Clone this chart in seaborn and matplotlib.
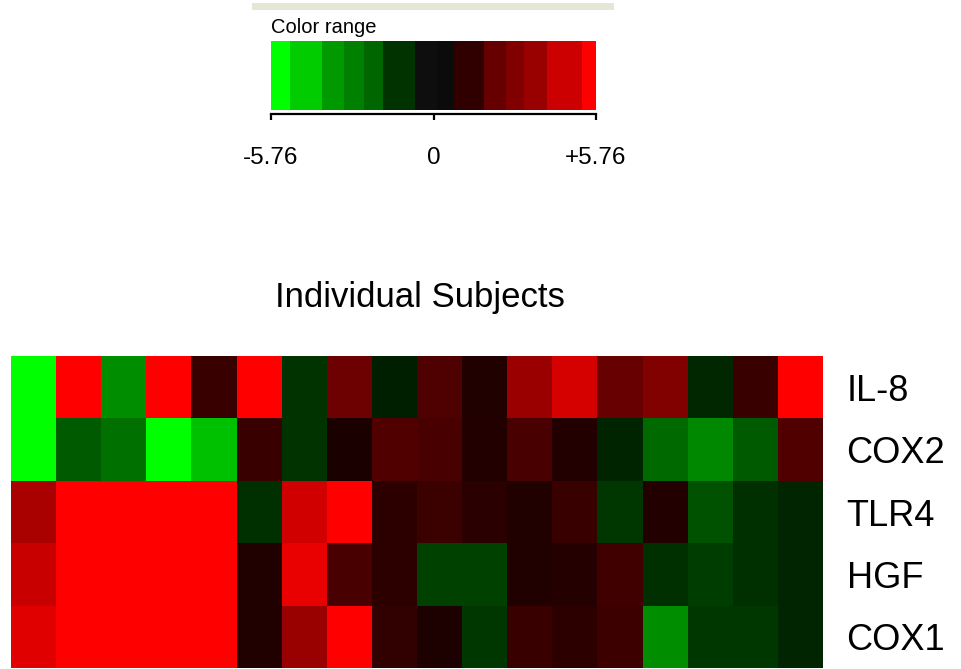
"""
Heatmap of gene expression per individual subject (green-black-red scale),
with the stepped "Color range" legend drawn above it.
"""

import numpy as np
import pandas as pd
import matplotlib
matplotlib.use("Agg")
import matplotlib.pyplot as plt
import seaborn as sns
from matplotlib.colors import LinearSegmentedColormap, ListedColormap, BoundaryNorm

# Data (log ratio)
genes = ["IL-8", "COX2", "TLR4", "HGF", "COX1"]
subjects = [f"S{i + 1}" for i in range(18)]

il8 = [-5.76, 5.76, -3.16, 5.76, 1.26, 5.76, -1.15, 2.44, -0.68,
       1.76, 0.72, 3.48, 4.81, 2.30, 2.89, -0.86, 1.26, 5.76]
cox2 = [-5.76, -2.03, -2.53, -5.76, -4.34, 1.26, -1.15, 0.59, 1.81,
        1.63, 0.77, 1.63, 0.77, -0.77, -2.35, -3.07, -2.03, 1.81]
tlr4 = [3.80, 5.76, 5.76, 5.76, 5.76, -1.08, 4.70, 5.76, 0.99,
        1.31, 0.95, 0.72, 1.26, -1.22, 0.77, -1.81, -1.08, -0.81]
hgf = [4.52, 5.76, 5.76, 5.76, 5.76, 0.72, 5.24, 1.63, 0.99,
       -1.45, -1.45, 0.72, 0.81, 1.45, -1.08, -1.36, -1.08, -0.81]
cox1 = [5.06, 5.76, 5.76, 5.76, 5.76, 0.72, 3.43, 5.76, 1.08,
        0.63, -1.22, 1.26, 0.99, 1.36, -3.16, -1.22, -1.22, -0.81]

VMAX = 5.76

# Stepped legend: bin edges (in value units) and the colour of each bin
legend_edges = [-5.76, -5.08, -3.95, -3.19, -2.45, -1.80, -0.65, 0.12,
                0.74, 1.80, 2.56, 3.22, 4.02, 5.26, 5.76]
legend_colors = ["#00ff00", "#00cc00", "#009900", "#008000", "#006600", "#003300",
                 "#0e0e0e", "#0b0b0b", "#300000", "#660000", "#800000",
                 "#990000", "#cc0000", "#ff0000"]
legend_ticks = [-5.76, 0, 5.76]
legend_ticklabels = ["-5.76", "0", "+5.76"]


def main() -> None:
    sns.set_style("white")
    plt.rcParams["font.family"] = ["Liberation Sans", "DejaVu Sans"]
    plt.rcParams["text.color"] = "black"
    plt.rcParams["xtick.color"] = "black"
    plt.rcParams["ytick.color"] = "black"

    W, H = 961, 669
    fig = plt.figure(figsize=(W / 100, H / 100), dpi=100)

    expr = pd.DataFrame([il8, cox2, tlr4, hgf, cox1], index=genes, columns=subjects)
    cmap = LinearSegmentedColormap.from_list("gbr", ["#00ff00", "#000000", "#ff0000"])

    # main heatmap
    ax = fig.add_axes([11 / W, 1 / H, 812 / W, 312 / H])
    sns.heatmap(expr, cmap=cmap, vmin=-VMAX, vmax=VMAX, cbar=False, ax=ax,
                xticklabels=False, yticklabels=True)
    ax.yaxis.tick_right()
    ax.tick_params(axis="y", length=0, pad=17, labelsize=26, rotation=0,
                   labelcolor="black")
    ax.set_xlabel("")
    ax.set_ylabel("")

    fig.text(420 / W, 1 - 307 / H, "Individual Subjects", ha="center",
             va="baseline", fontsize=25, color="black")

    # colour range legend
    band = fig.add_axes([252 / W, 1 - 10 / H, 362 / W, 7 / H])
    band.set_facecolor("#e6e6d6")
    band.set_xticks([])
    band.set_yticks([])
    for s in band.spines.values():
        s.set_visible(False)

    fig.text(271 / W, 1 - 33 / H, "Color range", ha="left", va="baseline",
             fontsize=14.5, color="black")

    cax = fig.add_axes([271 / W, 1 - 110 / H, 325 / W, 69 / H])
    lcmap = ListedColormap(legend_colors)
    norm = BoundaryNorm(legend_edges, lcmap.N)
    centers = (np.array(legend_edges[:-1]) + np.array(legend_edges[1:])) / 2
    cax.pcolormesh(legend_edges, [0, 1], centers[np.newaxis, :], cmap=lcmap, norm=norm)
    cax.set_xlim(-VMAX, VMAX)
    cax.set_ylim(0, 1)
    cax.set_yticks([])
    for side in ["top", "left", "right"]:
        cax.spines[side].set_visible(False)
    cax.spines["bottom"].set_position(("outward", 3))
    cax.spines["bottom"].set_linewidth(1.6)
    cax.spines["bottom"].set_color("black")
    cax.set_xticks(legend_ticks)
    cax.set_xticklabels(legend_ticklabels)
    cax.tick_params(axis="x", bottom=True, direction="out", length=4, width=1.6,
                    color="black", pad=20, labelsize=17.5, labelcolor="black")

    fig.savefig("out.png", dpi=100)


if __name__ == "__main__":
    main()
